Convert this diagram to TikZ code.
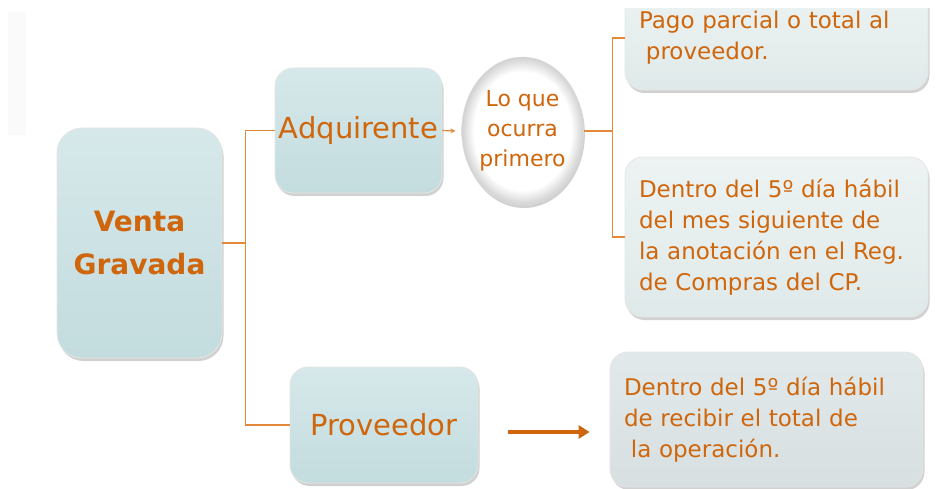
\documentclass[tikz,border=0pt]{standalone}
\usepackage{fontspec}
\setmainfont{DejaVu Sans}
\usetikzlibrary{
    positioning,
    arrows.meta,
    shapes.geometric,
    shadows
}

\definecolor{txtorange}{HTML}{CF660C}
\definecolor{lineorange}{HTML}{E3893C}
\definecolor{tealtop}{HTML}{D6E8EA}
\definecolor{tealbot}{HTML}{C3DCDE}
\definecolor{notetop}{HTML}{EDF3F3}
\definecolor{notebot}{HTML}{E0E9E9}
\definecolor{greytop}{HTML}{E2E9EA}
\definecolor{greybot}{HTML}{D7DFE1}

% white face with a grey rim
\pgfdeclareradialshading{rimshade}{\pgfpoint{0bp}{0bp}}{%
    color(0bp)=(white); color(20bp)=(white); color(25bp)=(black!18); color(50bp)=(black!18)}

\tikzset{
    boxshadow/.style={drop shadow={shadow xshift=1.5pt, shadow yshift=-3pt, opacity=.4, fill=black!45}},
    keybox/.style={rounded corners=18pt, top color=tealtop, bottom color=tealbot,
        draw=gray!20, line width=.8pt, boxshadow, text=txtorange, align=center,
        font=\fontsize{29}{34}\selectfont},
    notebox/.style={rounded corners=18pt, top color=notetop, bottom color=notebot,
        draw=gray!20, line width=.8pt, boxshadow, text=txtorange, align=left,
        inner xsep=14pt, font=\fontsize{23}{31}\selectfont},
    conn/.style={lineorange, line width=1.2pt},
    bigarrow/.style={txtorange, line width=4pt, -{Triangle[length=11pt, width=13pt]}}
}

\begin{document}
\begin{tikzpicture}[x=1pt, y=-1pt]
    \useasboundingbox (0,0) rectangle (939,489);

    % Faint strip top left
    \fill[gray!4] (8,12) rectangle (26,135);

    % Main boxes
    \node[keybox, rounded corners=25pt, minimum width=165pt, minimum height=230pt,
        font=\bfseries\fontsize{28}{43}\selectfont] (venta) at (139.5,243) {Venta\\Gravada};
    \node[keybox, minimum width=167pt, minimum height=125pt] (adq) at (358.5,130.5) {Adquirente};
    \node[keybox, minimum width=188pt, minimum height=116pt] (prov) at (384,425) {Proveedor};

    % Ellipse
    \node[ellipse, minimum width=101pt, minimum height=148pt, inner sep=0pt,
        shading=rimshade, draw=gray!25, boxshadow,
        text=txtorange, align=center, font=\fontsize{22}{30}\selectfont]
        (ocurra) at (522.5,131) {Lo que\\ocurra\\primero};

    % Right boxes
    \begin{scope}
        \clip (600,9) rectangle (939,489);
        \node[notebox, text width=275pt, minimum height=104pt] (pago) at (776.5,38)
            {Pago parcial o total al\\\hspace*{.3em}proveedor.};
    \end{scope}
    \node[notebox, text width=275pt, minimum height=160pt] (dentro) at (776.5,237)
        {Dentro del 5º día hábil\\del mes siguiente de\\la anotación en el Reg.\\de Compras del CP.};
    \node[notebox, top color=greytop, bottom color=greybot, text width=285pt,
        minimum height=135pt] (recibir) at (766.5,419.5)
        {Dentro del 5º día hábil\\de recibir el total de\\\hspace*{.3em}la operación.};

    % Connectors
    \draw[conn] (venta.east) -- ++(23,0) coordinate (fork) |- (adq.west);
    \draw[conn] (fork) |- (prov.west);
    \draw[conn, -{Stealth[length=5pt, width=5pt]}] (adq.east) -- ([xshift=-6pt]ocurra.west);
    \draw[conn] (ocurra.east) -- ++(29,0) coordinate (split) |- (pago.west);
    \draw[conn] (split) |- (dentro.west);

    % Arrow to the supplier deadline
    \coordinate (arrowstart) at ([yshift=-7pt]prov.east);
    \draw[bigarrow, shorten <=30pt, shorten >=20pt] (arrowstart) -- (arrowstart -| recibir.west);
\end{tikzpicture}
\end{document}
